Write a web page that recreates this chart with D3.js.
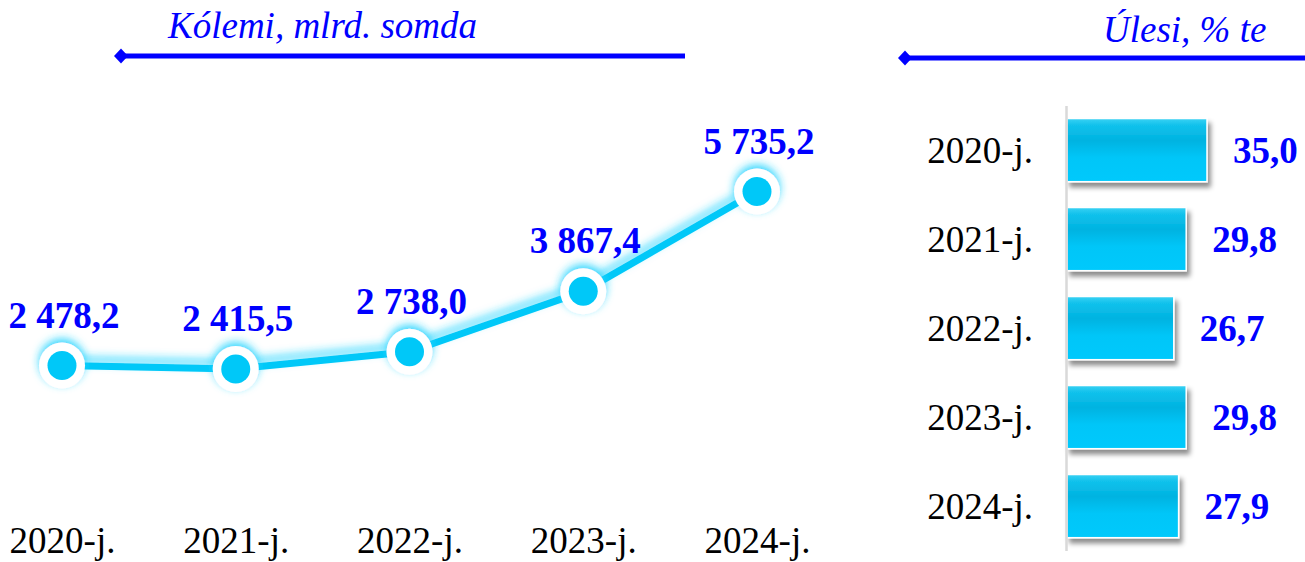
<!DOCTYPE html>
<html><head><meta charset="utf-8">
<script src="https://cdn.jsdelivr.net/npm/d3@7"></script>
<style>body{margin:0;background:#fff} svg{display:block}</style>
</head><body><svg id="c" width="1305" height="562"></svg>
<script>
const categories = ["2020-j.","2021-j.","2022-j.","2023-j.","2024-j."];
const volumeValues = [2478.2, 2415.5, 2738.0, 3867.4, 5735.2];
const volumeLabels = ["2 478,2","2 415,5","2 738,0","3 867,4","5 735,2"];
const shareValues = [35.0, 29.8, 26.7, 29.8, 27.9];
const shareLabels = ["35,0","29,8","26,7","29,8","27,9"];
const leftTitle = "Kólemi, mlrd. somda";
const rightTitle = "Úlesi, % te";

const FONT = "'Liberation Serif','Times New Roman',serif";
const BLUE = "#0000ff";
const CYAN = "#00c8f8";

const svg = d3.select("#c");
const defs = svg.append("defs");

function makeGlow(id, dy, sd, op){
  const f = defs.append("filter").attr("id",id).attr("filterUnits","userSpaceOnUse")
    .attr("x",-1500).attr("y",-1000).attr("width",4000).attr("height",3000);
  f.append("feGaussianBlur").attr("in","SourceAlpha").attr("stdDeviation",sd).attr("result","b");
  f.append("feOffset").attr("in","b").attr("dy",dy).attr("result","o");
  f.append("feFlood").attr("flood-color","#22d4ff").attr("flood-opacity",op);
  f.append("feComposite").attr("in2","o").attr("operator","in").attr("result","g");
  const m = f.append("feMerge");
  m.append("feMergeNode").attr("in","g");
  m.append("feMergeNode").attr("in","SourceGraphic");
}
makeGlow("glowLine", -6, 4, 0.75);
makeGlow("glowMark", -4, 4, 0.9);

// shadow filter for bars
const sh = defs.append("filter").attr("id","shadow").attr("filterUnits","userSpaceOnUse")
  .attr("x",0).attr("y",0).attr("width",1305).attr("height",562);
sh.append("feGaussianBlur").attr("in","SourceAlpha").attr("stdDeviation",2.5).attr("result","b");
sh.append("feOffset").attr("in","b").attr("dx",3).attr("dy",5).attr("result","o");
sh.append("feFlood").attr("flood-color","#000").attr("flood-opacity",0.45);
sh.append("feComposite").attr("in2","o").attr("operator","in").attr("result","g");
const sm = sh.append("feMerge");
sm.append("feMergeNode").attr("in","g");
sm.append("feMergeNode").attr("in","SourceGraphic");

// bar gradient
const bg = defs.append("linearGradient").attr("id","barGrad").attr("x1",0).attr("y1",0).attr("x2",0).attr("y2",1);
[["0%","#3cd2f4"],["10%","#12c2ec"],["35%","#00b3e1"],["62%","#00c6f8"],["100%","#00c9fc"]]
  .forEach(([o,c])=>bg.append("stop").attr("offset",o).attr("stop-color",c));

// axis line gradient
const ag = defs.append("linearGradient").attr("id","axisGrad").attr("x1",0).attr("y1",0).attr("x2",1).attr("y2",0);
[["0%","#d9d9d9"],["35%","#d4e4ea"],["50%","#bfe6f6"],["70%","#c8e6f2"],["85%","#d9d9d9"],["100%","#d9d9d9"]]
  .forEach(([o,c])=>ag.append("stop").attr("offset",o).attr("stop-color",c));

// ===== Titles =====
function titleBlock(text, tx, ty, lx1, lx2, ly){
  svg.append("text").attr("x",tx).attr("y",ty).text(text)
    .attr("font-family",FONT).attr("font-style","italic").attr("font-size",37).attr("fill",BLUE);
  svg.append("line").attr("x1",lx1+4).attr("x2",lx2).attr("y1",ly).attr("y2",ly)
    .attr("stroke",BLUE).attr("stroke-width",5);
  svg.append("path").attr("d",`M${lx1-7},${ly} L${lx1},${ly-7.5} L${lx1+7},${ly} L${lx1},${ly+7.5} Z`).attr("fill",BLUE);
}
titleBlock(leftTitle, 168, 38, 121, 685, 56);
titleBlock(rightTitle, 1103, 42, 905, 1305, 58);

// ===== Line chart =====
const x = d3.scalePoint().domain(categories).range([62, 757]);
const y = d3.scaleLinear().domain([0, 7000]).range([498, 124]);

svg.append("line").attr("x1",0).attr("x2",843).attr("y1",498).attr("y2",498)
  .attr("stroke","url(#axisGrad)").attr("stroke-width",2);

const xAxis = svg.append("g").attr("transform","translate(0,498)")
  .call(d3.axisBottom(x).tickSize(0).tickPadding(29));
xAxis.select(".domain").remove();
xAxis.selectAll("text").attr("font-family",FONT).attr("font-size",37).attr("fill","#000");

const pts = categories.map((c,i)=>({c, v: volumeValues[i], l: volumeLabels[i]}));
const line = d3.line().x(d=>x(d.c)).y(d=>y(d.v));

svg.append("path").datum(pts).attr("d",line).attr("fill","none")
  .attr("stroke",CYAN).attr("stroke-width",7).attr("stroke-linejoin","round").attr("filter","url(#glowLine)");

const mk = svg.append("g").selectAll("g").data(pts).join("g")
  .attr("transform",d=>`translate(${x(d.c)},${y(d.v)})`);
mk.append("circle").attr("r",23).attr("fill","#fff").attr("filter","url(#glowMark)");
mk.append("circle").attr("r",14.5).attr("fill",CYAN);

svg.append("g").selectAll("text").data(pts).join("text")
  .attr("x",d=>x(d.c)+2).attr("y",d=>y(d.v)-38)
  .attr("text-anchor","middle").attr("font-family",FONT).attr("font-weight","bold")
  .attr("font-size",37).attr("fill",BLUE).text(d=>d.l);

// ===== Bar chart =====
const xs = d3.scaleLinear().domain([0, 40]).range([1067, 1227]);
const yb = d3.scaleBand().domain(categories).range([105.6, 550.6]).paddingInner(0.29).paddingOuter(0.145);
const bars = categories.map((c,i)=>({c, v: shareValues[i], l: shareLabels[i]}));

svg.append("g").selectAll("rect").data(bars).join("rect")
  .attr("x",xs(0)).attr("y",d=>yb(d.c)).attr("width",d=>xs(d.v)-xs(0)).attr("height",yb.bandwidth())
  .attr("fill","url(#barGrad)").attr("stroke","#fff").attr("stroke-width",1.5).attr("filter","url(#shadow)");

const yAxis = svg.append("g").attr("transform","translate(1066,0)")
  .call(d3.axisLeft(yb).tickSize(0).tickPadding(33));
yAxis.select(".domain").attr("stroke","#d9d9d9").attr("stroke-width",2.5);
yAxis.selectAll("text").attr("font-family",FONT).attr("font-size",37).attr("fill","#000").attr("dy","0.34em");

svg.append("g").selectAll("text").data(bars).join("text")
  .attr("x",d=>xs(d.v)+26).attr("y",d=>yb(d.c)+yb.bandwidth()/2+13)
  .attr("font-family",FONT).attr("font-weight","bold").attr("font-size",37).attr("fill",BLUE).text(d=>d.l);
</script>
</body></html>
